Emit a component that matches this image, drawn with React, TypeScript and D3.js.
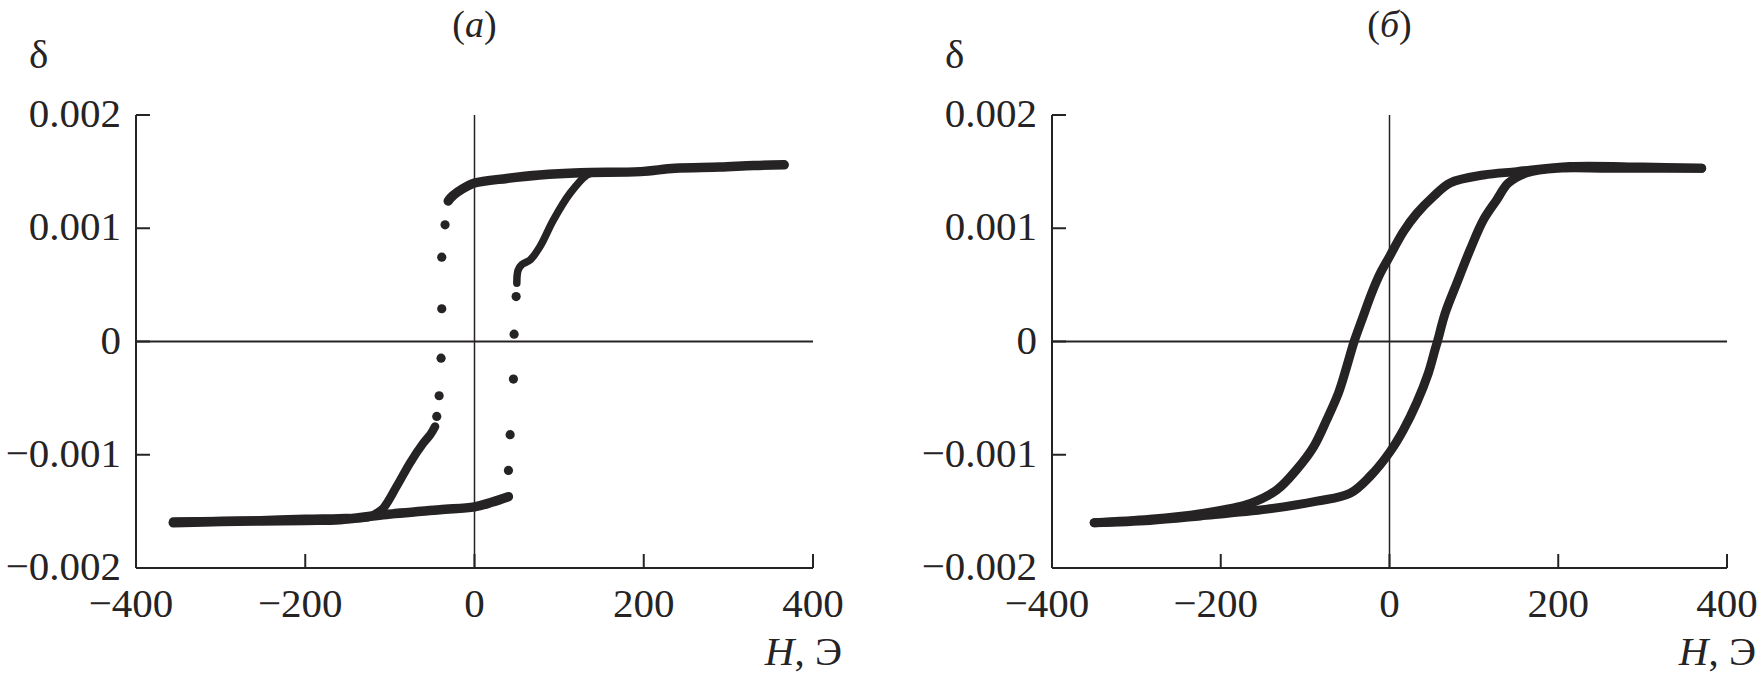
import React from "react";
import * as d3 from "d3";

// ---------- data ----------
const H_TICKS = [-400, -200, 0, 200, 400];
const D_TICKS = [0.002, 0.001, 0, -0.001, -0.002];
const D_TICK_LABELS = ["0.002", "0.001", "0", "\u22120.001", "\u22120.002"];
const H_TICK_LABELS = ["\u2212400", "\u2212200", "0", "200", "400"];

// Panel (а): descending field branch (+H -> -H)
const aUpperLine: [number, number][] = [
  [366, 0.00156], [330, 0.001555], [290, 0.00154], [237, 0.00153], [196, 0.0015],
  [125, 0.00149], [77, 0.00147], [38, 0.00144], [0, 0.0014], [-9, 0.00137],
  [-20, 0.00132], [-28, 0.00127], [-31, 0.00124],
];
const aUpperDots: [number, number][] = [
  [-34.8, 0.00103], [-38.7, 0.000745], [-38.7, 0.000289], [-39.5, -0.000147],
  [-41.8, -0.000479], [-44.6, -0.000662],
];
const aLowerRise: [number, number][] = [
  [-46.6, -0.00075], [-52, -0.00082], [-60.4, -0.000897], [-76, -0.00107],
  [-92, -0.00128], [-107.6, -0.00147], [-115.5, -0.001515], [-125, -0.00155],
  [-160, -0.00156], [-200, -0.001565], [-260, -0.00158], [-300, -0.001585], [-356, -0.00159],
];
// Panel (а): ascending field branch (-H -> +H)
const aLowerLine: [number, number][] = [
  [-356, -0.0016], [-300, -0.00159], [-200, -0.00158], [-159, -0.001574],
  [-108, -0.00153], [-41, -0.001486], [0, -0.00146], [20, -0.00142], [40, -0.00137],
];
const aLowerDots: [number, number][] = [
  [40.1, -0.001138], [42.1, -0.000823], [46, -0.000332], [46.8, 0.000065], [49.2, 0.000397],
];
const aUpperRise: [number, number][] = [
  [50, 0.000515], [51.5, 0.00063], [56, 0.00068], [65.7, 0.00072], [77.5, 0.00084],
  [93, 0.00107], [113, 0.00131], [132.7, 0.00147], [140, 0.00149],
];

// Panel (б)
const bDown: [number, number][] = [
  [370, 0.00153], [300, 0.00154], [214, 0.001545], [150.8, 0.0015], [111.3, 0.00147],
  [71.8, 0.0014], [52, 0.00128], [32.3, 0.00113], [16.5, 0.00097], [0, 0.00075],
  [-11.1, 0.0006], [-21, 0.00043], [-32.8, 0.00019], [-41.9, 0], [-50.6, -0.00022],
  [-60.5, -0.000455], [-74.3, -0.00069], [-90, -0.00093], [-110, -0.00113],
  [-133.5, -0.00131], [-165, -0.00143], [-224, -0.00152], [-284, -0.00157], [-350, -0.0016],
];
const bUp: [number, number][] = [
  [-350, -0.0016], [-284, -0.00158], [-224, -0.00154], [-145, -0.00148], [-86, -0.00141],
  [-46.7, -0.00134], [-23, -0.00119], [0, -0.00098], [16.5, -0.00078], [32.3, -0.00054],
  [46, -0.00028], [54, -0.00007], [56.8, 0], [66, 0.00025], [80, 0.00052], [95.5, 0.00081],
  [111, 0.00107], [127, 0.00125], [141, 0.0014], [163, 0.00149], [200, 0.00153],
  [260, 0.00153], [370, 0.00153],
];

// ---------- layout ----------
const W = 1758;
const H = 678;
const INK = "#262324";
const FONT = "'Liberation Serif', 'Times New Roman', serif";
const FS = 41;
const TOP = 115;
const BOTTOM = 568;

type Series = { pts: [number, number][]; kind: "line" | "dots"; width?: number };

function Panel({
  left, right, title, series,
}: { left: number; right: number; title: string; series: Series[] }) {
  const x = d3.scaleLinear().domain([-400, 400]).range([left, right]);
  const y = d3.scaleLinear().domain([-0.002, 0.002]).range([BOTTOM, TOP]);
  const line = d3
    .line<[number, number]>()
    .x((d) => x(d[0]))
    .y((d) => y(d[1]))
    .curve(d3.curveCatmullRom.alpha(0.5));
  const tickLen = 14;
  return (
    <g>
      <text x={x(0)} y={37} textAnchor="middle" fontFamily={FONT} fontSize={38} fill={INK}>
        (<tspan fontStyle="italic">{title}</tspan>)
      </text>
      <text x={left - 107} y={68} fontFamily={FONT} fontSize={FS} fill={INK}>
        δ
      </text>
      <line x1={left} x2={right} y1={y(0)} y2={y(0)} stroke={INK} strokeWidth={1.8} />
      <line x1={x(0)} x2={x(0)} y1={TOP} y2={BOTTOM} stroke={INK} strokeWidth={1.5} />
      <line x1={left} x2={left} y1={TOP} y2={BOTTOM} stroke={INK} strokeWidth={2} />
      <line x1={left} x2={right} y1={BOTTOM} y2={BOTTOM} stroke={INK} strokeWidth={2.2} />
      {D_TICKS.map((t, i) => (
        <g key={"yt" + i}>
          <line x1={left} x2={left + tickLen} y1={y(t)} y2={y(t)} stroke={INK} strokeWidth={2} />
          <text
            x={left - 15}
            y={y(t) + 12}
            textAnchor="end"
            fontFamily={FONT}
            fontSize={FS}
            fill={INK}
          >
            {D_TICK_LABELS[i]}
          </text>
        </g>
      ))}
      {H_TICKS.map((t, i) => (
        <g key={"xt" + i}>
          <line x1={x(t)} x2={x(t)} y1={BOTTOM} y2={BOTTOM - tickLen} stroke={INK} strokeWidth={2} />
          <text x={x(t) + (t < 0 ? -5 : 0)} y={617} textAnchor="middle" fontFamily={FONT} fontSize={FS} fill={INK}>
            {H_TICK_LABELS[i]}
          </text>
        </g>
      ))}
      <text x={right + 29} y={665} textAnchor="end" fontFamily={FONT} fontSize={FS} fill={INK}>
        <tspan fontStyle="italic">H</tspan>, Э
      </text>
      {series.map((s, i) =>
        s.kind === "line" ? (
          <path
            key={"s" + i}
            d={line(s.pts) || ""}
            fill="none"
            stroke={INK}
            strokeWidth={s.width ?? 8}
            strokeLinecap="round"
            strokeLinejoin="round"
          />
        ) : (
          <g key={"s" + i}>
            {s.pts.map((p, j) => (
              <circle key={j} cx={x(p[0])} cy={y(p[1])} r={4.6} fill={INK} />
            ))}
          </g>
        )
      )}
    </g>
  );
}

export default function App() {
  return (
    <svg
      width={W}
      height={H}
      viewBox={`0 0 ${W} ${H}`}
      style={{ position: "absolute", left: 0, top: 0, background: "#fff" }}
    >
      <rect width={W} height={H} fill="#fff" />
      <Panel
        left={136}
        right={813}
        title="а"
        series={[
          { pts: aUpperLine, kind: "line", width: 9.5 },
          { pts: aUpperDots, kind: "dots" },
          { pts: aLowerRise, kind: "line", width: 8.5 },
          { pts: aLowerLine, kind: "line", width: 9.5 },
          { pts: aLowerDots, kind: "dots" },
          { pts: aUpperRise, kind: "line", width: 7.5 },
        ]}
      />
      <Panel
        left={1052}
        right={1727}
        title="б"
        series={[
          { pts: bDown, kind: "line", width: 9 },
          { pts: bUp, kind: "line", width: 9 },
        ]}
      />
    </svg>
  );
}
